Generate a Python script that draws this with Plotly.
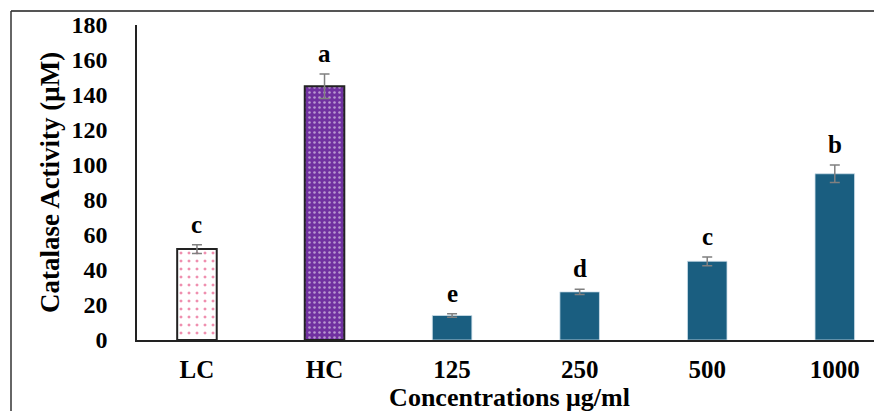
import plotly.graph_objects as go

categories = ["LC", "HC", "125", "250", "500", "1000"]
values = [52, 145, 14, 27.5, 45, 95]
errors = [2.5, 7, 1, 1.5, 2.5, 5]
letters = ["c", "a", "e", "d", "c", "b"]
y_ticks = [0, 20, 40, 60, 80, 100, 120, 140, 160, 180]

FONT = "Liberation Serif, Times New Roman, serif"
blue = "#1a5e80"

x_idx = list(range(len(categories)))

fig = go.Figure()

# LC bar: white with pink dots
fig.add_trace(go.Bar(
    x=[x_idx[0]], y=[values[0]],
    error_y=dict(type="data", array=[errors[0]], color="#808080", thickness=1.5, width=5),
    width=0.31,
    marker=dict(color="white", line=dict(color="#222222", width=2),
                pattern=dict(shape=".", fgcolor="#e0205f", bgcolor="white", size=8, solidity=0.11)),
    showlegend=False,
))
# HC bar: purple with white dots
fig.add_trace(go.Bar(
    x=[x_idx[1]], y=[values[1]],
    error_y=dict(type="data", array=[errors[1]], color="#808080", thickness=1.5, width=5),
    width=0.31,
    marker=dict(color="#7030a0", line=dict(color="#222222", width=2),
                pattern=dict(shape=".", fgcolor="white", bgcolor="#7030a0", size=5, solidity=0.2)),
    showlegend=False,
))
# Concentration bars
fig.add_trace(go.Bar(
    x=x_idx[2:], y=values[2:],
    error_y=dict(type="data", array=errors[2:], color="#808080", thickness=1.5, width=5),
    width=0.31,
    marker=dict(color=blue, line=dict(color="#cfe0ea", width=0.8)),
    showlegend=False,
))

for i, (v, e, l) in enumerate(zip(values, errors, letters)):
    fig.add_annotation(x=x_idx[i], y=v + e, text="<b>%s</b>" % l, showarrow=False,
                       yanchor="bottom", yshift=5,
                       font=dict(family=FONT, size=25, color="black"))

fig.update_layout(
    width=882, height=411,
    margin=dict(l=129, r=8, t=17, b=79),
    plot_bgcolor="white", paper_bgcolor="white",
    font=dict(family=FONT, color="black"),
    xaxis=dict(
        range=[-0.47, 5.37], tickvals=x_idx, ticktext=["<b>%s</b>" % c for c in categories],
        tickfont=dict(family=FONT, size=25, color="black"),
        showline=True, linecolor="#222222", linewidth=1.5, ticks="", showgrid=False,
        ticklabelstandoff=6, automargin=False,
        title=dict(text="<b>Concentrations μg/ml</b>", font=dict(family=FONT, size=26, color="black"), standoff=0),
        zeroline=False,
    ),
    yaxis=dict(
        range=[0, 180], tickvals=y_ticks, ticktext=["<b>%d</b>" % t for t in y_ticks],
        tickfont=dict(family=FONT, size=24, color="black"),
        showline=True, linecolor="#222222", linewidth=1.5, ticks="", showgrid=False,
        ticklabelstandoff=23, automargin=False,
        title=dict(text="<b>Catalase Activity (μM)</b>", font=dict(family=FONT, size=27, color="black"), standoff=4),
        zeroline=False,
    ),
)

# outer frame (left and top edges visible)
fx = (3 - 129) / 745
fy = (332 - 3) / 315
fig.add_shape(type="line", xref="paper", yref="paper", x0=fx, x1=1.2,
              y0=fy, y1=fy, line=dict(color="#555555", width=2))
fig.add_shape(type="line", xref="paper", yref="paper", x0=fx, x1=fx,
              y0=fy, y1=-0.5, line=dict(color="#333333", width=1.5))

fig.write_html("out.html")
